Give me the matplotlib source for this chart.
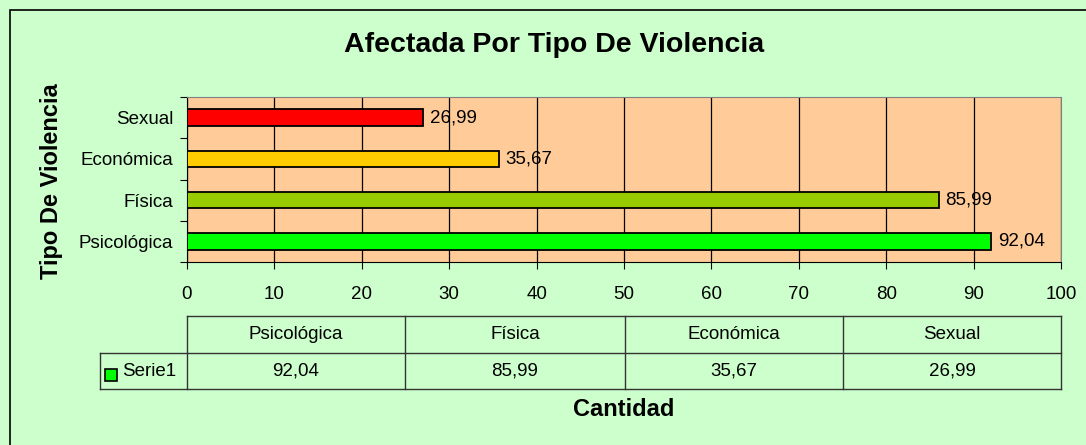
import matplotlib
matplotlib.use("Agg")
import matplotlib.pyplot as plt
from matplotlib.patches import Rectangle
from matplotlib.lines import Line2D

categorias = ["Psicológica", "Física", "Económica", "Sexual"]
valores = [92.04, 85.99, 35.67, 26.99]
etiquetas = ["92,04", "85,99", "35,67", "26,99"]
colores = ["#00FF00", "#99CC00", "#FFCC00", "#FF0000"]
serie = "Serie1"

plt.rcParams["font.family"] = ["Liberation Sans", "DejaVu Sans"]
FS = 13.5

W, H = 1086, 445
fig = plt.figure(figsize=(W / 100, H / 100), dpi=100, facecolor="#CCFFCC")

def fx(px):
    return px / W

def fy(py):
    return 1 - py / H

# chart border (right/bottom edges fall outside the image)
fig.patches.append(Rectangle((fx(10), fy(450)), fx(1100) - fx(10), fy(10) - fy(450),
                             transform=fig.transFigure, fill=False, edgecolor="black", lw=1.2))

ax = fig.add_axes([fx(187), fy(262), fx(1061) - fx(187), fy(97) - fy(262)])
ax.set_facecolor("#FFCC99")
ypos = range(len(categorias))
ax.barh(ypos, valores, height=0.4, color=colores, edgecolor="black", lw=1.3, zorder=3)
for y, v, t in zip(ypos, valores, etiquetas):
    ax.text(v + 0.8, y, t, va="center", ha="left", fontsize=FS, zorder=4)

ax.set_xlim(0, 100)
ax.set_ylim(-0.5, 3.5)
ax.set_xticks(range(0, 101, 10))
ax.xaxis.grid(True, color="black", lw=0.9, zorder=1)
ax.set_yticks([-0.5, 0.5, 1.5, 2.5, 3.5])
ax.set_yticklabels([])
ax.set_yticks(list(ypos), minor=True)
ax.set_yticklabels(categorias, minor=True, fontsize=FS)
ax.tick_params(axis="y", which="minor", length=0, pad=10)
ax.tick_params(axis="y", which="major", length=5, direction="out")
ax.tick_params(axis="x", length=5, direction="out", labelsize=FS, pad=12)
for s in ["top", "right"]:
    ax.spines[s].set_color("#808080")
for s in ["left", "bottom"]:
    ax.spines[s].set_color("black")

fig.text(fx(554), fy(45), "Afectada Por Tipo De Violencia", ha="center", va="center",
         fontsize=20.5, fontweight="bold")
fig.text(fx(52), fy(181), "Tipo De Violencia", ha="center", va="center", rotation=90,
         fontsize=17, fontweight="bold")
fig.text(fx(624), fy(410), "Cantidad", ha="center", va="center", fontsize=17, fontweight="bold")

# data table below the axis
cols = [187, 405, 625, 843, 1061]
top, mid, bot = 316, 353, 389
lc = "#333333"
def line(x0, y0, x1, y1):
    fig.lines.append(Line2D([fx(x0), fx(x1)], [fy(y0), fy(y1)], transform=fig.transFigure,
                            color=lc, lw=1))
line(187, top, 1061, top)
line(100, mid, 1061, mid)
line(100, bot, 1061, bot)
line(100, mid, 100, bot)
for c in cols:
    line(c, top, c, bot)
for i, (cat, t) in enumerate(zip(categorias, etiquetas)):
    xc = (cols[i] + cols[i + 1]) / 2
    fig.text(fx(xc), fy((top + mid) / 2), cat, ha="center", va="center", fontsize=FS)
    fig.text(fx(xc), fy((mid + bot) / 2), t, ha="center", va="center", fontsize=FS)
fig.patches.append(Rectangle((fx(105), fy(381)), fx(117) - fx(105), fy(369) - fy(381),
                             transform=fig.transFigure, facecolor="#00FF00", edgecolor="black", lw=1.2))
fig.text(fx(122), fy((mid + bot) / 2), serie, ha="left", va="center", fontsize=FS)

fig.savefig("out.png", dpi=100, facecolor=fig.get_facecolor())
